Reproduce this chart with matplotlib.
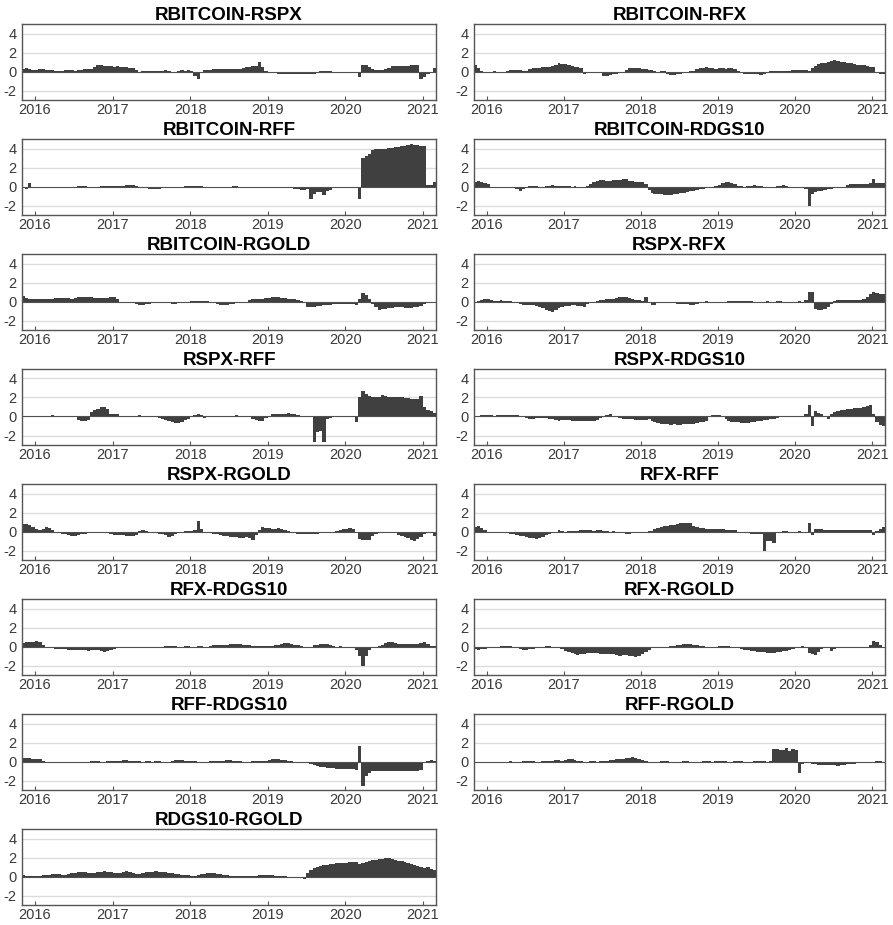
import matplotlib
matplotlib.use("Agg")
import matplotlib.pyplot as plt
import matplotlib.dates as mdates
import pandas as pd
import numpy as np

plt.rcParams['font.family'] = ['Liberation Sans', 'DejaVu Sans']
plt.rcParams['axes.unicode_minus'] = False

# semi-monthly observation grid: 1st and 15th of each month, Nov 2015 .. Mar 2021
dates = pd.date_range('2015-11-01', periods=129, freq='SMS')
end_date = pd.Timestamp('2021-03-03')

titles = ['RBITCOIN-RSPX', 'RBITCOIN-RFX', 'RBITCOIN-RFF', 'RBITCOIN-RDGS10',
          'RBITCOIN-RGOLD', 'RSPX-RFX', 'RSPX-RFF', 'RSPX-RDGS10',
          'RSPX-RGOLD', 'RFX-RFF', 'RFX-RDGS10', 'RFX-RGOLD',
          'RFF-RDGS10', 'RFF-RGOLD', 'RDGS10-RGOLD']

yticks = [-2, 0, 2, 4]

rbitcoin_rspx = [0.3, 0.4, 0.3, 0.2,
    0.2, 0.3, 0.3, 0.2, 0.2, 0.2, 0.1, 0.05, 0.1, 0.2, 0.2, 0.2, 0.1, 0.2, 0.2, 0.3, 0.3, 0.3, 0.5, 0.7, 0.7, 0.6, 0.6, 0.6,
    0.5, 0.6, 0.5, 0.5, 0.5, 0.4, 0.4, 0.2, 0.0, 0.05, 0.05, 0.1, 0.1, 0.1, 0.1, 0.1, 0.15, 0.1, -0.1, -0.1, 0.1, 0.15, 0.1, 0.2,
    0.1, -0.5, -0.8, -0.2, 0.15, 0.2, 0.2, 0.3, 0.3, 0.3, 0.3, 0.3, 0.3, 0.3, 0.3, 0.3, 0.4, 0.5, 0.5, 0.6, 0.6, 1.0, 0.5, 0.1,
    -0.1, -0.2, -0.2, -0.3, -0.3, -0.3, -0.3, -0.3, -0.3, -0.25, -0.3, -0.3, -0.3, -0.3, -0.3, -0.1, 0.05, 0.1, 0.1, 0.1, -0.05, -0.05, -0.1, -0.1,
    -0.1, -0.1, -0.1, -0.2, -0.6, 0.7, 0.7, 0.5, 0.3, 0.2, 0.2, 0.2, 0.3, 0.4, 0.6, 0.6, 0.6, 0.6, 0.6, 0.6, 0.7, 0.7, 0.7, -0.8,
    -0.6, -0.3, 0.0, 0.4, 0.5]

rbitcoin_rfx = [0.7, 0.4, 0.1, 0.0,
    -0.05, -0.1, 0.05, -0.1, 0.0, -0.1, 0.1, 0.2, 0.2, 0.2, 0.2, 0.1, 0.1, 0.3, 0.4, 0.4, 0.4, 0.5, 0.5, 0.5, 0.6, 0.7, 0.9, 0.8,
    0.8, 0.7, 0.6, 0.5, 0.5, 0.4, -0.3, -0.2, -0.1, 0.0, -0.1, -0.2, -0.5, -0.5, -0.4, -0.3, -0.3, -0.2, -0.2, 0.2, 0.4, 0.4, 0.4, 0.4,
    0.3, 0.3, 0.2, 0.2, 0.1, 0.0, 0.1, 0.1, -0.3, -0.4, -0.4, -0.3, -0.3, -0.1, 0.0, 0.1, 0.1, 0.3, 0.4, 0.4, 0.5, 0.4, 0.4, 0.3,
    0.4, 0.4, 0.3, 0.4, 0.4, 0.3, 0.1, -0.2, -0.3, -0.3, -0.3, -0.3, -0.3, -0.4, -0.3, 0.0, 0.05, 0.05, 0.1, 0.1, 0.1, 0.1, 0.1, 0.2,
    0.2, 0.2, 0.2, 0.2, 0.1, 0.4, 0.6, 0.8, 0.9, 0.9, 1.0, 1.1, 1.2, 1.1, 1.0, 1.0, 0.9, 0.9, 0.8, 0.7, 0.7, 0.7, 0.6, 0.5,
    0.5, -0.2, -0.3, -0.3, -0.3]

rbitcoin_rff = [-0.2, -0.3, 0.4, -0.1,
    -0.05, -0.1, -0.1, -0.1, 0.0, 0.0, -0.15, -0.1, 0.0, 0.0, -0.1, -0.1, 0.0, 0.1, 0.1, 0.1, -0.1, -0.2, -0.2, 0.0, 0.1, 0.1, 0.1, 0.1,
    0.1, 0.1, 0.1, 0.1, 0.15, 0.2, 0.2, 0.1, -0.1, -0.2, -0.2, -0.3, -0.3, -0.3, -0.3, -0.2, -0.2, -0.2, -0.1, -0.2, -0.2, -0.1, 0.05, 0.1,
    0.1, 0.1, 0.1, 0.05, 0.0, 0.0, 0.0, -0.1, -0.05, 0.0, 0.0, 0.0, 0.0, 0.1, 0.1, -0.1, 0.0, 0.0, 0.0, -0.05, -0.05, -0.1, -0.1, -0.1,
    -0.1, -0.1, -0.1, -0.1, -0.15, -0.2, -0.2, -0.2, -0.3, -0.3, -0.4, -0.4, -0.3, -1.3, -0.8, -0.6, -0.6, -0.9, -0.5, -0.4, -0.2, -0.1, -0.05, 0.0,
    0.0, 0.0, 0.0, -0.2, -1.3, 3.0, 3.2, 3.4, 3.8, 3.9, 4.0, 4.0, 4.0, 4.1, 4.1, 4.2, 4.2, 4.3, 4.3, 4.4, 4.5, 4.4, 4.4, 4.3,
    4.3, 0.2, 0.2, 0.5, 0.8]

rbitcoin_rdgs10 = [0.5, 0.6, 0.5, 0.4,
    0.3, 0.0, -0.05, -0.05, -0.05, -0.1, -0.1, -0.1, -0.2, -0.3, -0.5, -0.3, 0.0, 0.1, 0.1, 0.1, 0.0, 0.0, 0.1, 0.1, 0.15, 0.1, 0.1, 0.1,
    0.1, 0.1, 0.0, 0.1, 0.0, -0.05, 0.0, 0.1, 0.3, 0.5, 0.6, 0.7, 0.7, 0.6, 0.6, 0.7, 0.7, 0.7, 0.8, 0.8, 0.6, 0.6, 0.5, 0.5,
    0.5, 0.3, -0.4, -0.7, -0.8, -0.8, -0.8, -0.9, -0.9, -0.9, -0.8, -0.8, -0.7, -0.7, -0.6, -0.5, -0.5, -0.4, -0.3, -0.3, -0.2, -0.2, -0.1, 0.1,
    0.2, 0.4, 0.5, 0.5, 0.4, 0.3, 0.1, 0.1, 0.0, 0.1, 0.1, 0.2, 0.1, 0.1, 0.0, 0.0, 0.0, -0.1, 0.1, 0.1, 0.2, 0.1, 0.0, 0.0,
    0.0, -0.1, -0.2, -0.3, -2.0, -0.8, -0.6, -0.5, -0.5, -0.4, -0.3, -0.3, -0.2, -0.2, -0.1, -0.1, 0.2, 0.3, 0.3, 0.3, 0.3, 0.3, 0.3, 0.4,
    0.8, 0.4, 0.4, 0.4, 0.4]

rbitcoin_rgold = [0.6, 0.4, 0.3, 0.3,
    0.3, 0.3, 0.3, 0.3, 0.3, 0.3, 0.35, 0.4, 0.4, 0.4, 0.4, 0.3, 0.4, 0.5, 0.5, 0.5, 0.5, 0.5, 0.4, 0.4, 0.4, 0.4, 0.4, 0.5,
    0.5, 0.3, -0.1, -0.1, -0.1, -0.05, -0.2, -0.3, -0.4, -0.4, -0.3, -0.3, -0.2, -0.2, -0.2, -0.2, -0.2, -0.2, -0.3, -0.3, -0.2, -0.1, 0.0, -0.05,
    0.05, 0.05, 0.1, 0.1, 0.1, 0.1, -0.1, -0.2, -0.3, -0.4, -0.4, -0.4, -0.3, -0.3, -0.2, -0.2, -0.1, -0.05, 0.2, 0.3, 0.3, 0.3, 0.3, 0.4,
    0.4, 0.5, 0.5, 0.5, 0.4, 0.4, 0.3, 0.3, 0.3, 0.2, 0.1, 0.0, -0.6, -0.6, -0.6, -0.5, -0.5, -0.4, -0.4, -0.4, -0.3, -0.3, -0.3, -0.3,
    -0.3, -0.3, -0.3, -0.4, 0.3, 0.9, 0.7, 0.3, -0.3, -0.6, -0.9, -0.8, -0.8, -0.7, -0.7, -0.6, -0.6, -0.6, -0.7, -0.7, -0.7, -0.6, -0.6, -0.5,
    -0.3, 0.0, 0.0, 0.0, 0.0]

rspx_rfx = [0.0, 0.1, 0.2, 0.3,
    0.3, 0.2, 0.1, 0.1, 0.15, 0.1, 0.1, 0.1, 0.0, -0.1, -0.3, -0.4, -0.4, -0.4, -0.4, -0.5, -0.6, -0.7, -0.9, -1.0, -1.1, -0.9, -0.7, -0.6,
    -0.5, -0.5, -0.4, -0.4, -0.5, -0.5, -0.6, -0.3, -0.1, 0.0, 0.1, 0.2, 0.2, 0.3, 0.3, 0.3, 0.4, 0.5, 0.5, 0.5, 0.4, 0.3, 0.2, 0.2,
    0.1, 0.5, -0.2, -0.4, -0.4, -0.2, -0.1, -0.2, -0.2, -0.2, -0.2, -0.3, -0.3, -0.3, -0.3, -0.4, -0.4, -0.3, -0.1, 0.0, 0.05, 0.0, 0.0, -0.1,
    -0.15, -0.1, 0.0, 0.05, 0.1, 0.1, 0.1, 0.05, 0.05, 0.1, 0.1, 0.0, -0.1, -0.1, 0.0, 0.05, 0.0, 0.0, 0.05, 0.05, 0.0, 0.0, 0.0, 0.0,
    0.0, 0.05, 0.0, 0.2, 1.0, 1.0, -0.8, -0.9, -0.9, -0.8, -0.6, -0.3, 0.1, 0.2, 0.2, 0.2, 0.2, 0.2, 0.2, 0.2, 0.2, 0.3, 0.5, 0.8,
    1.0, 0.9, 0.8, 0.8, 0.8]

rspx_rff = [0.05, 0.05, 0.05, 0.05,
    0.0, 0.05, 0.1, 0.1, 0.1, 0.15, 0.1, 0.0, 0.0, 0.0, 0.0, 0.0, 0.0, -0.4, -0.5, -0.5, -0.4, 0.5, 0.7, 0.8, 1.0, 1.0, 0.8, 0.3,
    0.3, 0.3, 0.1, 0.1, 0.0, 0.05, 0.1, 0.0, 0.15, 0.0, 0.1, 0.1, 0.05, -0.1, -0.2, -0.3, -0.4, -0.5, -0.6, -0.7, -0.7, -0.6, -0.4, -0.3,
    0.1, 0.2, 0.3, 0.2, -0.2, 0.0, 0.0, 0.0, 0.05, 0.1, 0.1, 0.1, 0.1, 0.1, 0.15, 0.1, 0.0, 0.0, -0.1, -0.3, -0.4, -0.5, -0.5, -0.2,
    0.1, 0.3, 0.3, 0.3, 0.3, 0.3, 0.4, 0.3, 0.3, 0.2, 0.1, 0.0, 0.1, 0.0, -2.7, -1.6, -1.5, -2.7, -0.3, -0.2, -0.1, 0.0, 0.0, 0.0,
    0.0, 0.0, -0.1, -0.6, 2.0, 2.7, 2.4, 2.2, 2.0, 2.0, 2.1, 2.3, 2.2, 2.1, 2.0, 2.0, 2.0, 2.0, 1.9, 1.9, 1.8, 1.8, 1.8, 2.2,
    1.0, 0.7, 0.6, 0.4, 0.3]

rspx_rdgs10 = [0.1, 0.1, 0.2, 0.2,
    0.2, 0.2, 0.1, 0.2, 0.2, 0.2, 0.2, 0.2, 0.2, 0.2, 0.1, -0.1, -0.2, -0.3, -0.3, -0.2, -0.2, -0.2, -0.2, -0.3, -0.3, -0.4, -0.5, -0.4,
    -0.4, -0.4, -0.5, -0.5, -0.5, -0.5, -0.5, -0.5, -0.5, -0.5, -0.4, -0.2, 0.0, 0.2, 0.3, 0.1, -0.1, -0.2, -0.3, -0.3, -0.3, -0.3, -0.4, -0.4,
    -0.4, -0.4, -0.3, -0.5, -0.6, -0.7, -0.8, -0.8, -0.8, -0.9, -0.8, -0.9, -0.9, -0.8, -0.8, -0.8, -0.8, -0.7, -0.6, -0.6, -0.5, 0.1, 0.2, 0.2,
    0.2, 0.1, -0.3, -0.5, -0.6, -0.6, -0.6, -0.7, -0.7, -0.7, -0.6, -0.6, -0.5, -0.5, -0.4, -0.4, -0.3, -0.3, -0.2, -0.1, 0.0, 0.0, 0.0, 0.0,
    0.05, 0.0, 0.1, 0.3, 1.2, -1.0, 0.6, 0.4, 0.3, 0.0, -0.3, 0.3, 0.5, 0.6, 0.7, 0.7, 0.8, 0.8, 0.9, 0.9, 0.9, 1.0, 1.1, 1.2,
    0.3, -0.6, -0.9, -1.0, -0.7]

rspx_rgold = [0.8, 0.8, 0.7, 0.5,
    0.3, 0.2, 0.3, 0.5, 0.4, 0.2, -0.1, -0.2, -0.3, -0.3, -0.4, -0.5, -0.5, -0.4, -0.3, -0.3, -0.2, -0.2, -0.1, 0.0, 0.0, 0.0, -0.1, -0.3,
    -0.4, -0.4, -0.4, -0.4, -0.5, -0.5, -0.5, -0.4, 0.1, 0.2, 0.1, 0.0, -0.1, -0.2, -0.3, -0.3, -0.4, -0.6, -0.5, -0.3, -0.1, 0.0, 0.1, 0.1,
    0.1, 0.2, 1.1, 0.3, 0.0, -0.2, -0.2, -0.3, -0.3, -0.4, -0.5, -0.5, -0.6, -0.6, -0.6, -0.7, -0.7, -0.6, -0.7, -0.9, -0.4, 0.2, 0.5, 0.4,
    0.4, 0.3, 0.3, 0.4, 0.3, 0.2, 0.1, 0.0, -0.2, -0.3, -0.3, -0.3, -0.3, -0.3, -0.3, -0.3, -0.2, -0.2, -0.2, -0.1, 0.0, 0.1, 0.2, 0.3,
    0.3, 0.4, 0.3, 0.0, -0.8, -0.9, -0.9, -0.9, -0.5, -0.3, -0.1, -0.1, -0.2, -0.1, -0.1, -0.2, -0.4, -0.5, -0.6, -0.7, -0.9, -1.0, -0.8, -0.6,
    -0.3, -0.2, -0.2, -0.5, -0.5]

rfx_rff = [0.5, 0.6, 0.4, 0.2,
    0.0, -0.05, -0.05, -0.1, -0.1, -0.2, -0.2, -0.3, -0.3, -0.4, -0.5, -0.5, -0.6, -0.7, -0.7, -0.8, -0.7, -0.6, -0.4, -0.3, -0.1, 0.0, 0.2, 0.1,
    0.0, 0.05, 0.1, 0.1, 0.05, 0.2, 0.2, 0.2, 0.2, 0.1, 0.2, 0.2, 0.1, 0.05, 0.0, 0.1, 0.0, 0.0, -0.2, -0.3, -0.3, -0.2, -0.1, -0.1,
    0.0, 0.0, 0.1, 0.1, 0.3, 0.4, 0.5, 0.6, 0.6, 0.7, 0.7, 0.8, 0.9, 0.9, 0.9, 0.9, 0.6, 0.5, 0.4, 0.4, 0.3, 0.3, 0.3, 0.3,
    0.3, 0.3, 0.2, 0.2, 0.2, 0.2, -0.1, -0.2, -0.2, -0.2, -0.3, -0.3, -0.3, -0.3, -2.1, -1.0, -1.0, -1.2, 0.0, 0.0, 0.05, 0.05, 0.0, 0.0,
    0.0, 0.05, 0.0, 0.0, 0.9, -0.4, 0.3, 0.3, 0.3, 0.2, 0.2, 0.2, 0.2, 0.2, 0.2, 0.2, 0.2, 0.2, 0.2, 0.2, 0.2, 0.2, 0.2, 0.2,
    -0.4, 0.1, 0.3, 0.5, 0.5]

rfx_rdgs10 = [0.4, 0.5, 0.5, 0.5,
    0.6, 0.5, 0.2, 0.0, -0.1, -0.2, -0.3, -0.3, -0.3, -0.3, -0.4, -0.4, -0.4, -0.4, -0.4, -0.4, -0.5, -0.4, -0.4, -0.4, -0.5, -0.6, -0.5, -0.4,
    -0.3, -0.2, -0.1, -0.1, -0.2, -0.1, -0.2, -0.1, -0.1, -0.1, -0.1, -0.1, -0.1, 0.0, 0.0, 0.0, 0.05, 0.1, 0.1, 0.1, 0.0, 0.0, 0.1, 0.05,
    0.0, 0.0, 0.1, 0.1, 0.0, -0.1, 0.1, 0.2, 0.2, 0.2, 0.2, 0.2, 0.3, 0.3, 0.3, 0.3, 0.2, 0.2, 0.2, 0.1, 0.1, 0.1, 0.1, 0.1,
    0.1, 0.1, 0.2, 0.2, 0.3, 0.4, 0.4, 0.3, 0.2, 0.2, 0.1, 0.0, -0.2, 0.0, 0.2, 0.2, 0.3, 0.3, 0.3, 0.2, 0.1, 0.0, 0.1, 0.0,
    0.0, 0.0, -0.1, -0.4, -1.0, -2.1, -1.0, -0.4, -0.1, 0.0, 0.1, 0.2, 0.4, 0.5, 0.5, 0.4, 0.3, 0.3, 0.3, 0.3, 0.3, 0.3, 0.3, 0.4,
    0.5, 0.3, 0.1, 0.1, 0.1]

rfx_rgold = [-0.3, -0.4, -0.3, -0.3,
    -0.2, -0.2, -0.1, 0.0, 0.05, 0.1, 0.1, 0.05, 0.0, -0.1, -0.3, -0.4, -0.4, -0.3, -0.3, -0.2, -0.1, 0.0, 0.1, 0.1, 0.0, -0.1, -0.2, -0.3,
    -0.5, -0.6, -0.7, -0.8, -0.9, -0.8, -0.8, -0.7, -0.7, -0.7, -0.7, -0.8, -0.8, -0.8, -0.8, -0.8, -0.9, -1.0, -0.9, -0.9, -1.0, -1.0, -1.1, -1.0,
    -0.8, -0.6, -0.4, -0.2, -0.1, -0.1, -0.1, 0.0, 0.0, 0.1, 0.1, 0.2, 0.2, 0.3, 0.3, 0.3, 0.2, 0.2, 0.1, 0.1, 0.0, -0.05, 0.0, 0.0,
    0.05, 0.05, 0.1, 0.1, 0.0, -0.1, -0.2, -0.3, -0.4, -0.4, -0.5, -0.5, -0.6, -0.6, -0.6, -0.7, -0.7, -0.7, -0.6, -0.6, -0.5, -0.5, -0.4, -0.3,
    -0.2, 0.0, 0.1, 0.0, -0.7, -0.8, -0.9, -0.6, -0.3, -0.2, -0.2, -0.5, -0.3, -0.1, -0.1, -0.1, -0.1, -0.1, -0.1, -0.1, -0.1, -0.1, 0.0, 0.2,
    0.6, 0.5, 0.2, -0.2, -0.2]

rff_rdgs10 = [0.4, 0.4, 0.4, 0.3,
    0.3, 0.3, 0.1, 0.0, -0.1, -0.1, -0.1, -0.1, -0.1, -0.2, -0.2, -0.2, -0.2, -0.1, -0.1, 0.0, 0.0, 0.1, 0.1, 0.1, 0.0, 0.0, 0.1, 0.1,
    0.1, 0.1, 0.1, 0.2, 0.2, 0.1, 0.1, 0.1, 0.1, 0.0, 0.1, 0.1, 0.0, 0.1, 0.1, 0.0, -0.1, 0.0, 0.1, 0.2, 0.2, 0.2, 0.1, 0.1,
    0.1, 0.1, -0.2, -0.1, -0.1, 0.0, 0.1, 0.1, 0.1, 0.1, 0.1, 0.2, 0.2, 0.1, 0.1, 0.1, 0.0, -0.1, 0.0, 0.1, 0.1, 0.1, 0.1, 0.1,
    0.2, 0.3, 0.3, 0.3, 0.2, 0.2, 0.1, 0.1, 0.0, 0.0, -0.1, -0.1, -0.2, -0.3, -0.4, -0.5, -0.6, -0.6, -0.7, -0.7, -0.7, -0.8, -0.8, -0.8,
    -0.8, -0.8, -0.8, -0.9, 1.6, -2.6, -1.5, -1.2, -1.0, -1.0, -1.0, -1.0, -1.0, -1.0, -1.0, -1.0, -1.0, -1.0, -1.0, -1.0, -1.0, -1.0, -1.0, -0.9,
    -0.1, 0.1, 0.2, 0.1, 0.1]

rff_rgold = [-0.1, -0.1, 0.0, 0.0,
    0.0, 0.0, -0.05, 0.0, 0.0, 0.0, 0.0, 0.05, 0.0, 0.0, 0.0, 0.1, 0.1, 0.1, 0.1, 0.0, 0.0, 0.1, 0.1, 0.1, 0.1, 0.2, 0.2, 0.1,
    0.2, 0.3, 0.3, 0.2, 0.1, 0.1, 0.0, 0.0, 0.1, 0.1, 0.0, 0.1, 0.1, 0.1, 0.2, 0.2, 0.3, 0.3, 0.3, 0.4, 0.4, 0.5, 0.4, 0.3,
    0.2, 0.1, -0.1, -0.1, 0.0, 0.0, 0.1, 0.1, 0.1, 0.0, -0.1, 0.0, 0.0, 0.1, 0.1, 0.0, -0.1, -0.1, 0.0, 0.1, 0.1, 0.1, 0.0, 0.1,
    0.1, 0.1, 0.1, 0.0, 0.0, 0.1, 0.1, 0.1, 0.0, 0.0, 0.0, 0.1, 0.1, 0.1, 0.1, 0.0, 0.1, 1.3, 1.3, 1.2, 1.2, 1.4, 1.1, 1.3,
    1.2, -1.2, -0.3, -0.2, -0.2, -0.3, -0.3, -0.4, -0.4, -0.4, -0.4, -0.4, -0.4, -0.5, -0.4, -0.4, -0.3, -0.3, -0.3, -0.2, -0.2, -0.2, -0.1, -0.1,
    0.0, 0.1, 0.1, 0.0, 0.0]

rdgs10_rgold = [0.2, 0.1, 0.1, 0.1,
    0.1, 0.1, 0.2, 0.2, 0.2, 0.3, 0.3, 0.3, 0.2, 0.2, 0.3, 0.4, 0.4, 0.5, 0.5, 0.5, 0.4, 0.4, 0.4, 0.5, 0.5, 0.6, 0.5, 0.5,
    0.4, 0.4, 0.4, 0.5, 0.6, 0.5, 0.4, 0.3, 0.3, 0.4, 0.5, 0.5, 0.5, 0.6, 0.5, 0.5, 0.5, 0.4, 0.4, 0.3, 0.3, 0.2, 0.2, 0.2,
    0.1, 0.1, 0.2, 0.3, 0.3, 0.4, 0.4, 0.4, 0.3, 0.3, 0.2, 0.2, 0.1, 0.1, 0.1, 0.1, 0.1, 0.1, 0.1, 0.1, 0.1, 0.2, 0.2, 0.2,
    0.2, 0.2, 0.1, 0.1, 0.1, 0.1, 0.0, 0.0, 0.0, 0.0, -0.1, -0.3, 0.4, 0.7, 0.9, 1.0, 1.1, 1.2, 1.2, 1.3, 1.3, 1.4, 1.4, 1.4,
    1.4, 1.5, 1.5, 1.5, 1.3, 1.4, 1.5, 1.6, 1.7, 1.7, 1.8, 1.8, 1.9, 1.9, 1.8, 1.7, 1.6, 1.6, 1.5, 1.4, 1.3, 1.2, 1.1, 1.0,
    0.9, 1.0, 0.8, 0.7, 0.6]

series = [rbitcoin_rspx, rbitcoin_rfx, rbitcoin_rff, rbitcoin_rdgs10,
          rbitcoin_rgold, rspx_rfx, rspx_rff, rspx_rdgs10,
          rspx_rgold, rfx_rff, rfx_rdgs10, rfx_rgold,
          rff_rdgs10, rff_rgold, rdgs10_rgold]

W, H = 893, 925
fig = plt.figure(figsize=(W / 100, H / 100), dpi=100)

col_x = [(22, 436), (474, 885)]
fill_color = '#404040'
x_ext = list(dates) + [end_date]

for k, (title, vals) in enumerate(zip(titles, series)):
    row, col = divmod(k, 2)
    x0, x1 = col_x[col]
    top = 24 + 115 * row
    ax = fig.add_axes([x0 / W, 1 - (top + 76) / H, (x1 - x0) / W, 76 / H])
    y_ext = list(vals) + [vals[-1]]
    for yv in [4, 2, -2]:
        ax.axhline(yv, color='#dcdcdc', lw=1.0, zorder=0)
    ax.fill_between(x_ext, 0, y_ext, step='post', color=fill_color, lw=0, zorder=2)
    ax.axhline(0, color='#505050', lw=0.8, zorder=3)
    ax.set_xlim(pd.Timestamp('2015-11-01'), end_date)
    ax.set_ylim(-3, 5)
    ax.set_yticks(yticks)
    ax.set_yticklabels([str(v) for v in yticks])
    ax.xaxis.set_major_locator(mdates.YearLocator())
    ax.xaxis.set_major_formatter(mdates.DateFormatter('%Y'))
    ax.tick_params(axis='x', direction='in', length=3, width=0.8, color='#555555',
                   labelsize=10.5, labelcolor='#3a3a3a', pad=2)
    ax.tick_params(axis='y', length=0, labelsize=10.5, labelcolor='#3a3a3a', pad=4)
    for sp in ax.spines.values():
        sp.set_color('#555555')
        sp.set_linewidth(1.0)
    ax.set_title(title, fontsize=13.5, fontweight='bold', pad=1.5)

fig.savefig('out.png', dpi=100)
